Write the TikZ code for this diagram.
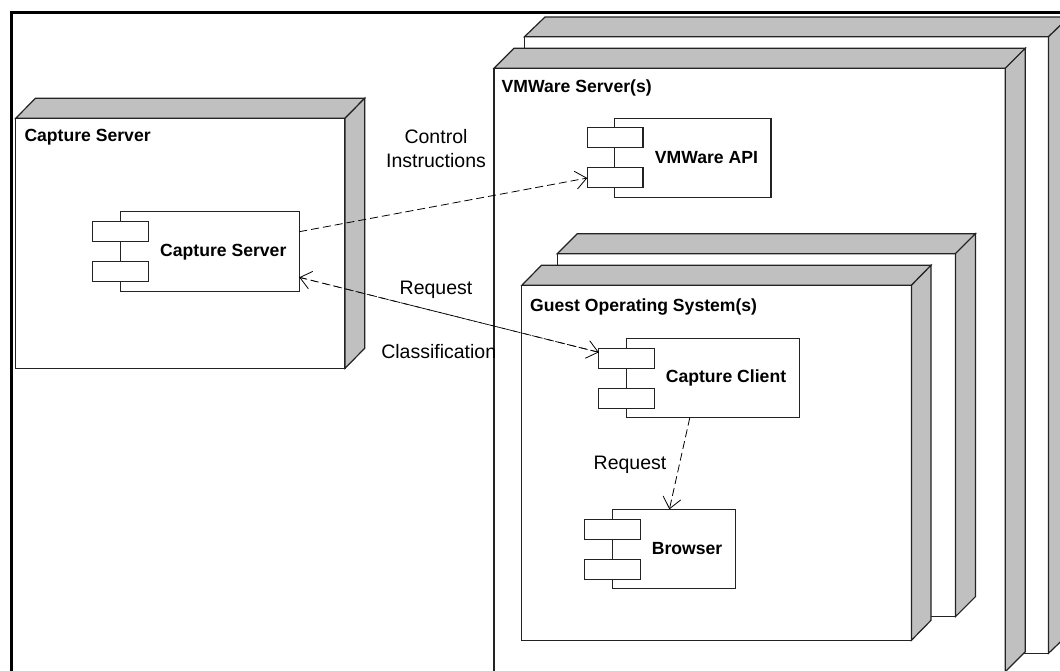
\documentclass[tikz,border=0pt]{standalone}
\usepackage{fontspec}
\setmainfont{Liberation Sans}
\usetikzlibrary{arrows.meta}
\definecolor{cubeside}{RGB}{192,192,192}
\definecolor{edgeink}{RGB}{35,35,35}
\tikzset{
  x=1pt, y=-1pt,
  cubefront/.style={draw=edgeink, line width=1.2pt, fill=white, inner sep=0pt, outer sep=0pt, anchor=north west},
  cubeside/.style={draw=edgeink, line width=1.2pt, fill=cubeside, line join=miter},
  compbody/.style={draw=edgeink, line width=1.1pt, fill=white, inner sep=0pt, outer sep=0pt, anchor=north west},
  compport/.style={draw=edgeink, line width=1.1pt, fill=white, inner sep=0pt, outer sep=0pt, anchor=north west},
  nodetitle/.style={font=\fontsize{17.6pt}{20pt}\selectfont\bfseries, anchor=west, inner sep=0pt, text=black},
  complabel/.style={font=\fontsize{17.6pt}{20pt}\selectfont\bfseries, inner sep=0pt, text=black},
  connlabel/.style={font=\fontsize{19.5pt}{24pt}\selectfont, inner sep=0pt, text=black},
  dep/.style={draw=black, line width=0.8pt, dash pattern=on 8pt off 4pt, -{Straight Barb[length=11pt,width=18pt,line width=0.8pt]}},
  frameline/.style={draw=black, line width=3pt, line cap=butt, line join=miter}
}
% name, x1, y1, x2, y2, dx, dy
\newcommand{\cuboid}[7]{%
  \node[cubefront, minimum width=#4pt-#2pt, minimum height=#5pt-#3pt] (#1) at (#2,#3) {};
  \draw[cubeside] (#1.north west) -- ++(#6,-#7) -- ++(#4-#2,0) -- ++(-#6,#7) -- cycle;
  \draw[cubeside] (#1.north east) -- ++(#6,-#7) -- ++(0,#5-#3) -- ++(-#6,#7) -- cycle;
}
% name, left, top, right, bottom, portleft, portright, p1top, p2top
\newcommand{\component}[9]{%
  \node[compbody, minimum width=#4pt-#2pt, minimum height=#5pt-#3pt] (#1) at (#2,#3) {};
  \node[compport, minimum width=#7pt-#6pt, minimum height=20pt] (#1p1) at (#6,#8) {};
  \node[compport, minimum width=#7pt-#6pt, minimum height=20pt] (#1p2) at (#6,#9) {};
}
\begin{document}
\begin{tikzpicture}
\useasboundingbox (0,0) rectangle (1060,670);
\fill[white] (0,0) rectangle (1060,670);
\clip (0,0) rectangle (1060,670);
% outer frame
\coordinate (frameBL) at (11.5,690);
\coordinate (frameTL) at (11.5,12.5);
\coordinate (frameTR) at (1075,12.5);
\draw[frameline] (frameBL) -- (frameTL) -- (frameTR);
% cubes
\cuboid{backvm}{524.5}{36.7}{1048.5}{653.3}{20.5}{19.7}
\cuboid{vm}{494}{68.3}{1005.3}{671.7}{20}{20}
\cuboid{backguest}{557.3}{253.7}{955.4}{616.7}{20}{20}
\cuboid{guest}{521.8}{285.3}{911.4}{640.3}{19.6}{20}
\cuboid{capnode}{15.7}{118.3}{345}{368.3}{19.7}{20}
% titles
\node[nodetitle] (capnodetitle) at (24.3,137) {Capture Server};
\node[nodetitle] (vmtitle) at (501.5,88) {VMWare Server(s)};
\node[nodetitle] (guesttitle) at (530,306.5) {Guest Operating System(s)};
% components
\component{capsrv}{120.3}{211.7}{299.3}{291.3}{92.3}{148.7}{221.7}{261.5}
\component{api}{614.3}{118.3}{771}{197.3}{587.3}{643}{127.7}{167.8}
\component{client}{626.5}{338.3}{799.3}{417.7}{598.8}{654.3}{348.5}{388.3}
\component{browser}{612.8}{509.3}{735.3}{588.3}{584.7}{640.6}{519.3}{559.2}
\node[complabel] (capsrvlabel) at (223.3,251.7) {Capture Server};
\node[complabel] (apilabel) at (706.4,157.7) {VMWare API};
\node[complabel] (clientlabel) at (726,377.7) {Capture Client};
\node[complabel] (browserlabel) at (687,549) {Browser};
% connector end points on the named boxes
\coordinate (capA) at (capsrv.east |- 0,231.7);
\coordinate (capB) at (capsrv.east |- 0,277.3);
\coordinate (clientA) at (clientp1.west |- 0,352.3);
\coordinate (clientB) at (689.8,0 |- client.south);
\coordinate (browserA) at (669.4,0 |- browser.north);
\coordinate (apiA) at (apip2.west |- 0,178);
% connectors
\draw[dep] (capA) -- (apiA);
\draw[dep, line width=0.7pt] (capB) -- (clientA);
\draw[dep, line width=0.7pt, dash pattern=on 7pt off 4.6pt] (clientA) -- (capB);
\draw[dep] (clientB) -- (browserA);
% connector labels
\node[connlabel] (l1) at (436,137) {Control};
\node[connlabel] (l2) at (436,161) {Instructions};
\node[connlabel] (l3) at (436,290) {Request};
\node[connlabel] (l4) at (438.7,352) {Classification};
\node[connlabel] (l5) at (630,464.5) {Request};
\end{tikzpicture}
\end{document}
